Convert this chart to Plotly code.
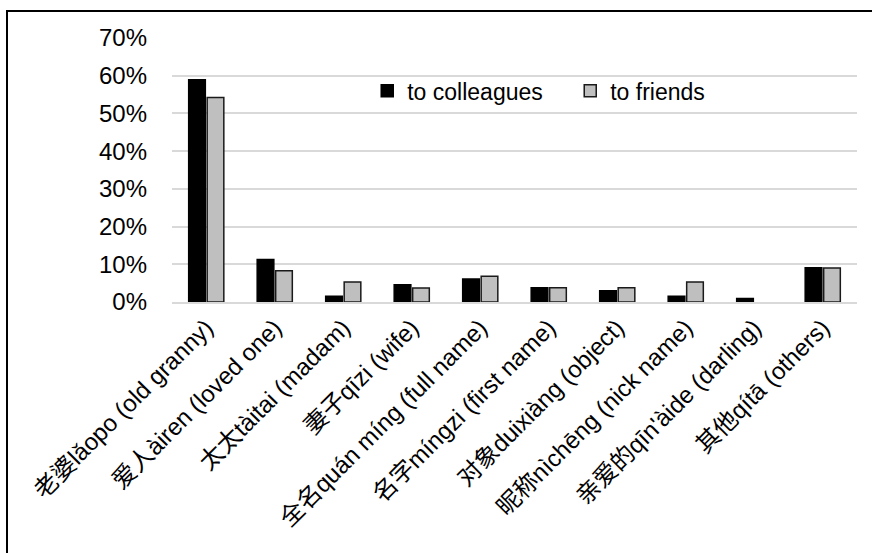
import plotly.graph_objects as go

categories = [
    "老婆lǎopo (old granny)",
    "爱人àiren (loved one)",
    "太太tàitai (madam)",
    "妻子qīzi (wife)",
    "全名quán míng (full name)",
    "名字míngzi (first name)",
    "对象duixiàng (object)",
    "昵称nìchēng (nick name)",
    "亲爱的qīn'àide (darling)",
    "其他qítā (others)",
]
to_colleagues = [0.589, 0.113, 0.015, 0.046, 0.061, 0.038, 0.030, 0.015, 0.009, 0.091]
to_friends = [0.542, 0.083, 0.053, 0.037, 0.068, 0.038, 0.038, 0.053, 0.0, 0.090]
y_ticks = [0, 0.1, 0.2, 0.3, 0.4, 0.5, 0.6, 0.7]

FONT = "Liberation Sans, Arial, Noto Sans CJK SC, sans-serif"
W, H = 872, 553
L, R, T, B = 172, 15, 38, 251


def outline_widths(values, width=1.5):
    # zero-height bars get no outline so they stay invisible
    return [width if v > 0 else 0 for v in values]


fig = go.Figure()
fig.add_trace(go.Bar(
    name="to colleagues", x=categories, y=to_colleagues,
    marker=dict(color="#000000",
                line=dict(color="#000000", width=outline_widths(to_colleagues))),
))
fig.add_trace(go.Bar(
    name="to friends", x=categories, y=to_friends,
    marker=dict(color="#BFBFBF",
                line=dict(color="#1a1a1a", width=outline_widths(to_friends))),
))

# outer frame (left and top edges visible)
pw, ph = W - L - R, H - T - B
fig.add_shape(
    type="rect", xref="paper", yref="paper",
    x0=(7 - L) / pw, x1=(W + 20 - L) / pw,
    y0=-(H + 20 - (T + ph)) / ph, y1=(T + ph - 11) / ph,
    line=dict(color="#000000", width=2), fillcolor="rgba(0,0,0,0)",
    layer="below",
)

fig.update_layout(
    width=W, height=H,
    margin=dict(l=L, r=R, t=T, b=B, pad=0),
    paper_bgcolor="white", plot_bgcolor="white",
    barmode="group", bargap=0.46, bargroupgap=0.1,
    font=dict(family=FONT, size=24, color="#000000"),
    showlegend=True,
    legend=dict(
        orientation="h", x=0.285, y=0.80, xanchor="left", yanchor="middle",
        font=dict(family=FONT, size=23, color="#000000"),
        bgcolor="rgba(0,0,0,0)", itemwidth=30, tracegroupgap=0,
        entrywidth=158, entrywidthmode="pixels",
    ),
    xaxis=dict(
        tickangle=-45, tickfont=dict(family=FONT, size=24, color="#000000"),
        showline=True, linecolor="#D9D9D9", linewidth=2,
        ticks="", showgrid=False,
    ),
    yaxis=dict(
        range=[0, 0.7], tickvals=y_ticks, tickformat=".0%",
        tickfont=dict(family=FONT, size=24, color="#000000"),
        showgrid=True, gridcolor="#D9D9D9", gridwidth=2,
        zeroline=False, showline=False, ticks="", ticklabelstandoff=24,
    ),
)

fig.write_html("out.html")
